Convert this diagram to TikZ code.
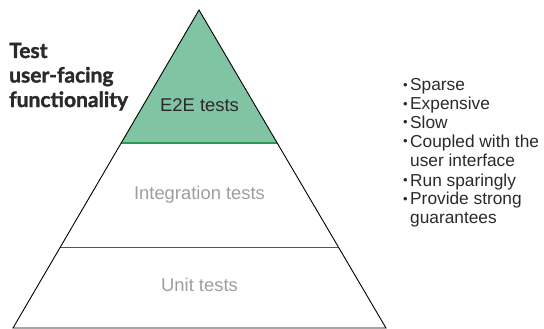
\documentclass[tikz,border=0pt]{standalone}
\usepackage{fontspec}
\setmainfont{Liberation Sans}
\newfontfamily\boldfont{Lato}[BoldFeatures={FakeBold=1.6}]
\usetikzlibrary{calc}
\definecolor{greenfill}{HTML}{80C4A3}
\definecolor{greenline}{HTML}{2E9A5A}
\definecolor{midgray}{HTML}{555555}
\definecolor{lightlabel}{HTML}{9E9E9E}
\definecolor{darklabel}{HTML}{2A2A2A}
\begin{document}
\begin{tikzpicture}[x=1pt,y=-1pt,
  layerlabel/.style={anchor=base,inner sep=0pt,font=\fontsize{18.4}{20}\selectfont},
  bulletdot/.style={anchor=base west,inner sep=0pt,font=\fontsize{13}{15}\selectfont,text=darklabel},
  bullettext/.style={anchor=base west,inner sep=0pt,font=\fontsize{17.3}{19}\selectfont,text=darklabel},
  sidetitle/.style={anchor=base west,inner sep=0pt,font=\boldfont\bfseries\fontsize{21}{24}\selectfont,text=darklabel},
  edge/.style={line width=0.9pt,black}]
\useasboundingbox (0,0) rectangle (544,329);
\coordinate (apex) at (199,10);
\coordinate (bl) at (13,328);
\coordinate (br) at (386,328);
\coordinate (gl) at ($(apex)!0.4182!(bl)$);
\coordinate (gr) at ($(apex)!0.4182!(br)$);
\coordinate (ml) at ($(apex)!0.7453!(bl)$);
\coordinate (mr) at ($(apex)!0.7453!(br)$);
\fill[greenfill] (apex) -- (gl) -- (gr) -- cycle;
\draw[line width=1.2pt,greenline] (gl) -- (gr);
\draw[line width=1pt,midgray] (ml) -- (mr);
\draw[edge,line join=miter] (bl) -- (apex) -- (br) -- cycle;
\node[layerlabel,text=darklabel] (e2e) at (199.5,111) {E2E tests};
\node[layerlabel,text=lightlabel] (integ) at (199.5,199.3) {Integration tests};
\node[layerlabel,text=lightlabel] (unit) at (199.5,291.7) {Unit tests};
\node[sidetitle] (t1) at (9,58) {Test};
\node[sidetitle] (t2) at (9,82.5) {user-facing};
\node[sidetitle] (t3) at (9,107) {functionality};
\foreach \y/\name/\txt in {91/b1/Sparse,110/b2/Expensive,128.5/b3/Slow,147/b4/Coupled with the,186/b6/Run sparingly,204.5/b7/Provide strong}{
  \node[bulletdot] (\name d) at (403,\y-1.5) {•};
  \node[bullettext] (\name) at (410,\y) {\txt};
}
\node[bullettext] (b5) at (410,166.5) {user interface};
\node[bullettext] (b8) at (410,223) {guarantees};
\end{tikzpicture}
\end{document}
